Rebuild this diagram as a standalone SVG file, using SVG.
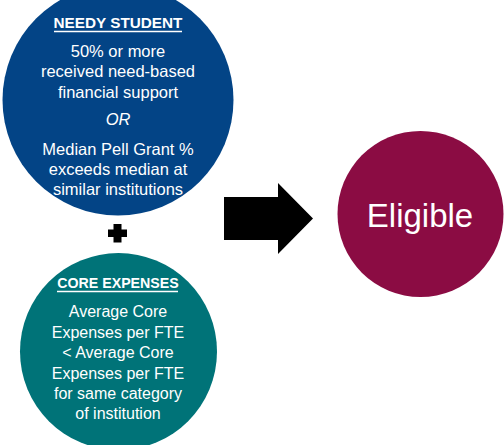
<svg xmlns="http://www.w3.org/2000/svg" width="504" height="445" viewBox="0 0 504 445">
<style>
  .t { font-family: "Liberation Sans", Arial, sans-serif; fill: #ffffff; text-anchor: middle; }
  .b { font-size: 16.5px; }
  .h { font-weight: bold; text-decoration: underline; }
  .ul { stroke: #ffffff; stroke-width: 1.3; }
</style>
<rect x="0" y="0" width="504" height="445" fill="#ffffff"/>
<g id="needy-student">
  <circle cx="118" cy="100" r="115.5" fill="#034486"/>
  <text class="t" x="118" y="28" font-size="15.3" font-weight="bold">NEEDY STUDENT</text>
  <line class="ul" x1="54" y1="31.5" x2="182" y2="31.5"/>
  <text class="t b" x="118" y="57">50% or more</text>
  <text class="t b" x="118" y="77">received need-based</text>
  <text class="t b" x="118" y="97.5">financial support</text>
  <text class="t b" x="118" y="125" font-style="italic">OR</text>
  <text class="t b" x="118" y="155">Median Pell Grant %</text>
  <text class="t b" x="118" y="174.5">exceeds median at</text>
  <text class="t b" x="118" y="195">similar institutions</text>
</g>
<g id="plus">
  <rect x="113.5" y="224" width="8" height="18.5" fill="#000000"/>
  <rect x="108" y="229.5" width="19" height="7.5" fill="#000000"/>
</g>
<g id="core-expenses">
  <circle cx="118.5" cy="351.5" r="98.5" fill="#007378"/>
  <text class="t" x="118" y="288" font-size="14.2" font-weight="bold">CORE EXPENSES</text>
  <line class="ul" x1="57" y1="291.5" x2="178" y2="291.5"/>
  <text class="t" x="118" y="317" font-size="16">Average Core</text>
  <text class="t" x="118" y="337.5" font-size="16">Expenses per FTE</text>
  <text class="t" x="118" y="358" font-size="16">&lt; Average Core</text>
  <text class="t" x="118" y="378.5" font-size="16">Expenses per FTE</text>
  <text class="t" x="118" y="398.5" font-size="16">for same category</text>
  <text class="t" x="118" y="419" font-size="16">of institution</text>
</g>
<g id="eligible">
  <circle cx="420.5" cy="214" r="83" fill="#8b0c43"/>
  <text class="t" x="420" y="227" font-size="33">Eligible</text>
</g>
<g id="connectors">
  <polygon points="224,197 278,197 278,183 313,218.5 278,254 278,240 224,240" fill="#000000"/>
</g>
</svg>
